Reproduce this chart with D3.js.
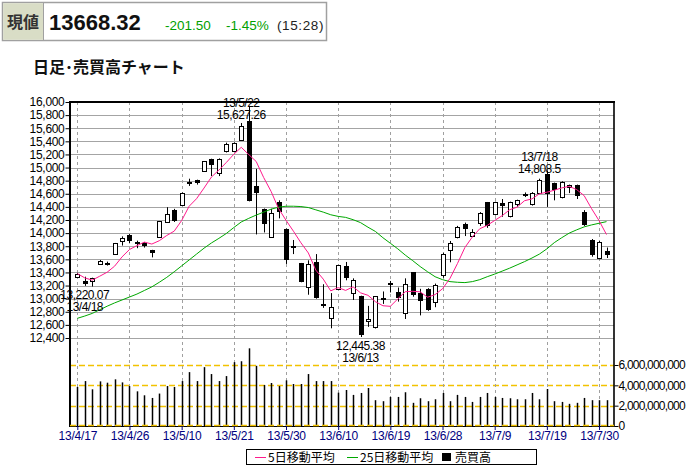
<!DOCTYPE html>
<html><head><meta charset="utf-8">
<script src="https://cdn.jsdelivr.net/npm/d3@7/dist/d3.min.js"></script>
<style>
body{margin:0;background:#fff;}
svg{display:block;}
text{font-family:"Liberation Sans",Arial,sans-serif;}
.jp{font-family:"Noto Sans CJK JP",sans-serif;}
</style></head><body><svg id="c" width="694" height="472"></svg>
<script>
const dates = ["13/4/17","13/4/18","13/4/19","13/4/22","13/4/23","13/4/24","13/4/25","13/4/26","13/4/30","13/5/1",
"13/5/2","13/5/7","13/5/8","13/5/9","13/5/10","13/5/13","13/5/14","13/5/15","13/5/16","13/5/17",
"13/5/20","13/5/21","13/5/22","13/5/23","13/5/24","13/5/27","13/5/28","13/5/29","13/5/30","13/5/31",
"13/6/3","13/6/4","13/6/5","13/6/6","13/6/7","13/6/10","13/6/11","13/6/12","13/6/13","13/6/14",
"13/6/17","13/6/18","13/6/19","13/6/20","13/6/21","13/6/24","13/6/25","13/6/26","13/6/27","13/6/28",
"13/7/1","13/7/2","13/7/3","13/7/4","13/7/5","13/7/8","13/7/9","13/7/10","13/7/11","13/7/12",
"13/7/16","13/7/17","13/7/18","13/7/19","13/7/22","13/7/23","13/7/24","13/7/25","13/7/26","13/7/29",
"13/7/30","13/7/31"];
const open = [13330,13270,13265,13530,13545,13680,13880,13970,13845,13845,
13735,13940,14175,14355,14435,14760,14805,14950,15125,14915,
15245,15245,15420,15710,14720,14370,13940,14475,14065,13800,
13540,13175,13555,12925,12700,13150,13505,13085,13040,12665,
12575,13000,13230,13095,12780,13400,13080,13150,12955,13360,
13735,13945,14140,13950,14150,14470,14290,14455,14260,14440,
14580,14440,14617,14900,14760,14545,14700,14730,14315,13895,
13620,13730];
const high = [13395,13335,13320,13590,13565,13850,13950,13985,13885,13860,
13745,14185,14395,14370,14620,14830,14815,15100,15135,15140,
15380,15385,15680,15942,14980,14375,14370,14500,14070,13895,
13545,13585,13680,13220,13085,13515,13560,13310,13045,12890,
13035,13110,13270,13170,13310,13405,13150,13160,13230,13700,
13880,14110,14160,14060,14320,14475,14480,14520,14480,14510,
14620,14625,14830,14953,14770,14790,14740,14740,14350,13910,
13880,13780];
const low = [13315,13195,13185,13515,13505,13675,13810,13845,13770,13780,
13630,13935,14165,14170,14420,14720,14740,14940,14870,14870,
15230,15240,15410,14484,13980,14010,13930,14225,13530,13680,
13250,13060,13000,12860,12548,13140,13280,12980,12415,12570,
12545,12920,13095,12955,12690,13030,12745,12815,12870,13320,
13555,13920,13955,13940,14110,14080,14270,14250,14240,14400,
14550,14420,14600,14400,14500,14530,14610,14520,14110,13640,
13600,13620];
const close = [13382.89,13220.07,13316.48,13568.37,13529.65,13843.46,13926.08,13884.13,13860.86,13799.35,
13694.04,14180.24,14285.69,14191.48,14607.54,14782.21,14758.11,15096.03,15037.24,15138.12,
15360.81,15381.02,15627.26,14483.98,14612.45,14142.65,14311.98,14326.46,13589.03,13774.54,
13261.82,13533.76,13014.87,12904.02,12877.53,13514.20,13317.62,13289.32,12445.38,12686.52,
13033.12,13007.28,13245.22,13014.58,13230.13,13062.78,12969.34,12834.01,13213.55,13677.32,
13852.50,14098.59,14055.35,14018.93,14309.97,14109.34,14472.58,14416.60,14472.90,14506.25,
14599.12,14615.04,14808.50,14589.91,14658.04,14778.51,14731.28,14562.93,14129.98,13661.13,
13869.82,13668.32];
const ma5 = [13383,13317,13283,13342,13403,13495,13637,13750,13809,13863,
13833,13884,13964,14030,14192,14409,14525,14687,14856,14962,
15078,15203,15309,15198,15093,14849,14636,14375,14196,14029,
13853,13697,13435,13298,13119,13169,13126,13181,13089,13051,
12954,12892,12883,12997,13106,13112,13104,13022,13062,13151,
13309,13535,13780,13941,14067,14118,14193,14266,14356,14396,
14494,14522,14600,14624,14654,14690,14713,14664,14572,14373,
14191,13978];
const ma25 = [12700,12735,12775,12830,12885,12935,12980,13025,13070,13125,
13180,13250,13325,13410,13500,13590,13680,13770,13850,13920,
13995,14085,14170,14225,14275,14320,14365,14395,14410,14410,
14405,14390,14355,14320,14280,14255,14240,14205,14160,14090,
14025,13930,13845,13760,13665,13580,13490,13410,13335,13290,
13260,13250,13245,13260,13290,13335,13375,13420,13465,13515,
13565,13620,13680,13760,13855,13930,14000,14050,14095,14125,
14150,14175];
const volume = [3.84e9,4.42e9,3.61e9,4.39e9,4.26e9,4.59e9,4.29e9,3.93e9,3.41e9,3.02e9,
2.76e9,3.19e9,3.93e9,3.84e9,4.42e9,5.30e9,4.42e9,5.79e9,5.11e9,4.42e9,
4.91e9,6.28e9,6.37e9,7.64e9,5.92e9,4.03e9,4.23e9,3.93e9,4.49e9,4.13e9,
4.13e9,5.11e9,4.42e9,4.42e9,4.42e9,3.28e9,3.54e9,3.06e9,3.25e9,3.74e9,
2.54e9,2.44e9,2.86e9,2.86e9,3.32e9,2.28e9,2.73e9,2.44e9,2.63e9,3.25e9,
2.44e9,3.06e9,2.86e9,2.37e9,2.86e9,3.25e9,2.86e9,2.76e9,2.73e9,2.63e9,
2.63e9,3.25e9,2.63e9,3.64e9,2.44e9,2.37e9,2.18e9,2.28e9,2.76e9,2.54e9,
2.54e9,2.54e9];
const priceTicks = [12400,12600,12800,13000,13200,13400,13600,13800,14000,14200,14400,14600,14800,15000,15200,15400,15600,15800,16000];
const volTicks = [0,2e9,4e9,6e9];
const dateTicks = ["13/4/17","13/4/26","13/5/10","13/5/21","13/5/30","13/6/10","13/6/19","13/6/28","13/7/9","13/7/19","13/7/30"];
const annotations = [{date:"13/4/18",type:"low"},{date:"13/5/22",type:"high"},{date:"13/6/13",type:"low"},{date:"13/7/18",type:"high"}];
const header = {label:"現値", price:"13668.32", change:"-201.50", pct:"-1.45%", time:"(15:28)"};
const title = "日足･売買高チャート";
const legendItems = [{name:"5日移動平均",color:"#ff1a8c",kind:"line"},{name:"25日移動平均",color:"#00a800",kind:"line"},{name:"売買高",color:"#000",kind:"box"}];

const svg = d3.select("#c");
const L = 70, R = 614, T = 102, B = 426;
const x = d3.scalePoint().domain(dates).range([77.3, 606.5]);
const y = d3.scaleLinear().domain([12400,16000]).range([338,102]);
const yv = d3.scaleLinear().domain([0,6e9]).range([426,365]);
const px = d => Math.round(x(d)) + 0.5;

// header
const hg = svg.append("g");
hg.append("rect").attr("x",2.5).attr("y",2.5).attr("width",324).attr("height",38).attr("fill","#fff").attr("stroke","#a0a0a0").attr("stroke-width",1.5);
hg.append("rect").attr("x",3.2).attr("y",3.2).attr("width",40).attr("height",36.6).attr("fill","#d9ddc6");
hg.append("line").attr("x1",43.5).attr("x2",43.5).attr("y1",3).attr("y2",40).attr("stroke","#a0a0a0");
hg.append("text").attr("class","jp").attr("x",23).attr("y",28).attr("text-anchor","middle").attr("font-size",16).attr("font-weight",700).attr("fill","#333").text(header.label);
hg.append("text").attr("x",49).attr("y",30).attr("font-size",22).attr("font-weight",700).attr("fill","#111").text(header.price);
hg.append("text").attr("x",165).attr("y",30).attr("font-size",13.5).attr("fill","#00a000").text(header.change);
hg.append("text").attr("x",226).attr("y",30).attr("font-size",13.5).attr("fill","#00a000").text(header.pct);
hg.append("text").attr("x",277).attr("y",30).attr("font-size",13.5).attr("letter-spacing",0.6).attr("fill","#222").text(header.time);
svg.append("text").attr("class","jp").attr("x",33).attr("y",73).attr("font-size",16).attr("font-weight",700).attr("fill","#111").text(title);

// grids
svg.append("g").selectAll("line").data(priceTicks).join("line")
  .attr("x1",L).attr("x2",R).attr("y1",d=>Math.round(y(d))+0.5).attr("y2",d=>Math.round(y(d))+0.5)
  .attr("stroke","#a4a4a4").attr("stroke-width",1);
svg.append("g").selectAll("line").data(volTicks.filter(v=>v>0)).join("line")
  .attr("x1",L).attr("x2",R).attr("y1",d=>Math.round(yv(d))+0.5).attr("y2",d=>Math.round(yv(d))+0.5)
  .attr("stroke","#f2c200").attr("stroke-width",1.3).attr("stroke-dasharray","6,3");
svg.append("g").selectAll("line").data(dateTicks).join("line")
  .attr("x1",d=>px(d)).attr("x2",d=>px(d)).attr("y1",T).attr("y2",B)
  .attr("stroke","#a0a0a0").attr("stroke-width",1).attr("stroke-dasharray","3,3");

// volume bars
svg.append("g").selectAll("line").data(dates).join("line")
  .attr("x1",d=>px(d)).attr("x2",d=>px(d)).attr("y1",(d,i)=>yv(volume[i])).attr("y2",B)
  .attr("stroke","#000").attr("stroke-width",1.5);

// candles
const cg = svg.append("g");
dates.forEach((d,i)=>{
  const cx = px(d);
  cg.append("line").attr("x1",cx).attr("x2",cx).attr("y1",y(high[i])).attr("y2",y(low[i])).attr("stroke","#000").attr("stroke-width",1);
  const yo = Math.round(y(open[i])), yc = Math.round(y(close[i]));
  if (close[i] >= open[i]) {
    const h = Math.max(1, yo - yc);
    cg.append("rect").attr("x",cx-2).attr("y",yc+0.5).attr("width",4).attr("height",h).attr("fill","#fff").attr("stroke","#000").attr("stroke-width",1);
  } else {
    const h = Math.max(2, yc - yo);
    cg.append("rect").attr("x",cx-2.5).attr("y",yo).attr("width",5).attr("height",h).attr("fill","#000");
  }
});

// moving averages
const line = arr => d3.line().x((d,i)=>x(dates[i])).y(d=>y(d))(arr);
svg.append("path").attr("d",line(ma25)).attr("fill","none").attr("stroke","#00a800").attr("stroke-width",1);
svg.append("path").attr("d",line(ma5)).attr("fill","none").attr("stroke","#ff1a8c").attr("stroke-width",1);

// frame
svg.append("line").attr("x1",L).attr("x2",L).attr("y1",T-1).attr("y2",B+1).attr("stroke","#000").attr("stroke-width",2);
svg.append("line").attr("x1",L).attr("x2",R+1).attr("y1",T).attr("y2",T).attr("stroke","#000").attr("stroke-width",2);
svg.append("line").attr("x1",R).attr("x2",R).attr("y1",T).attr("y2",B+1).attr("stroke","#000").attr("stroke-width",1.6);
svg.append("line").attr("x1",L).attr("x2",R).attr("y1",B+0.5).attr("y2",B+0.5).attr("stroke","#000").attr("stroke-width",1);
svg.append("line").attr("x1",L).attr("x2",R).attr("y1",B-0.5).attr("y2",B-0.5).attr("stroke","#f2c200").attr("stroke-width",1.5).attr("stroke-dasharray","6,3");

// axes
const ya = svg.append("g").attr("transform",`translate(${L-0.5},0)`)
  .call(d3.axisLeft(y).tickValues(priceTicks).tickFormat(d3.format(",")).tickSize(4).tickPadding(1));
ya.select(".domain").remove();
ya.selectAll("text").attr("font-size",12).attr("letter-spacing",-0.3).attr("fill","#000").style("font-family","'Liberation Sans',Arial,sans-serif");
ya.selectAll(".tick line").attr("stroke","#000");

const va = svg.append("g").attr("transform",`translate(${R+0.5},0)`)
  .call(d3.axisRight(yv).tickValues(volTicks).tickFormat(d3.format(",")).tickSize(4).tickPadding(0));
va.select(".domain").remove();
va.selectAll("text").attr("font-size",12).attr("letter-spacing",-0.8).attr("fill","#000").style("font-family","'Liberation Sans',Arial,sans-serif");
va.selectAll(".tick line").attr("stroke","#000");

const xa = svg.append("g").attr("transform",`translate(0,${B})`)
  .call(d3.axisBottom(x).tickValues(dateTicks).tickSize(4).tickPadding(1));
xa.select(".domain").remove();
xa.selectAll("text").attr("font-size",12).attr("letter-spacing",-0.2).attr("fill","#000080").style("font-family","'Liberation Sans',Arial,sans-serif");
xa.selectAll(".tick line").attr("stroke","#000080");

// annotations
const fmt = d3.format(",");
const ag = svg.append("g").attr("font-size",12).attr("letter-spacing",-0.5).attr("text-anchor","middle").attr("fill","#000");
annotations.forEach(a=>{
  const i = dates.indexOf(a.date);
  const cy = y(close[i]);
  const cx = x(a.date);
  if (a.type === "high") {
    ag.append("text").attr("x",cx).attr("y",cy-19.5).text(a.date);
    ag.append("text").attr("x",cx).attr("y",cy-7.5).text(fmt(close[i]));
  } else {
    ag.append("text").attr("x",cx).attr("y",cy+15).text(fmt(close[i]));
    ag.append("text").attr("x",cx).attr("y",cy+27).text(a.date);
  }
});

// legend
const lg = svg.append("g");
lg.append("rect").attr("x",246.5).attr("y",449.5).attr("width",290).attr("height",15).attr("fill","#fff").attr("stroke","#000").attr("stroke-width",1);
const lx = [255, 347, 442];
legendItems.forEach((it,k)=>{
  if (it.kind === "line") {
    lg.append("line").attr("x1",lx[k]).attr("x2",lx[k]+11).attr("y1",457.5).attr("y2",457.5).attr("stroke",it.color).attr("stroke-width",1);
    lg.append("text").attr("class","jp").attr("x",lx[k]+13).attr("y",462).attr("font-size",12).attr("fill","#000").text(it.name);
  } else {
    lg.append("rect").attr("x",lx[k]).attr("y",453).attr("width",9).attr("height",8).attr("fill",it.color);
    lg.append("text").attr("class","jp").attr("x",lx[k]+13).attr("y",462).attr("font-size",12).attr("fill","#000").text(it.name);
  }
});
</script></body></html>
